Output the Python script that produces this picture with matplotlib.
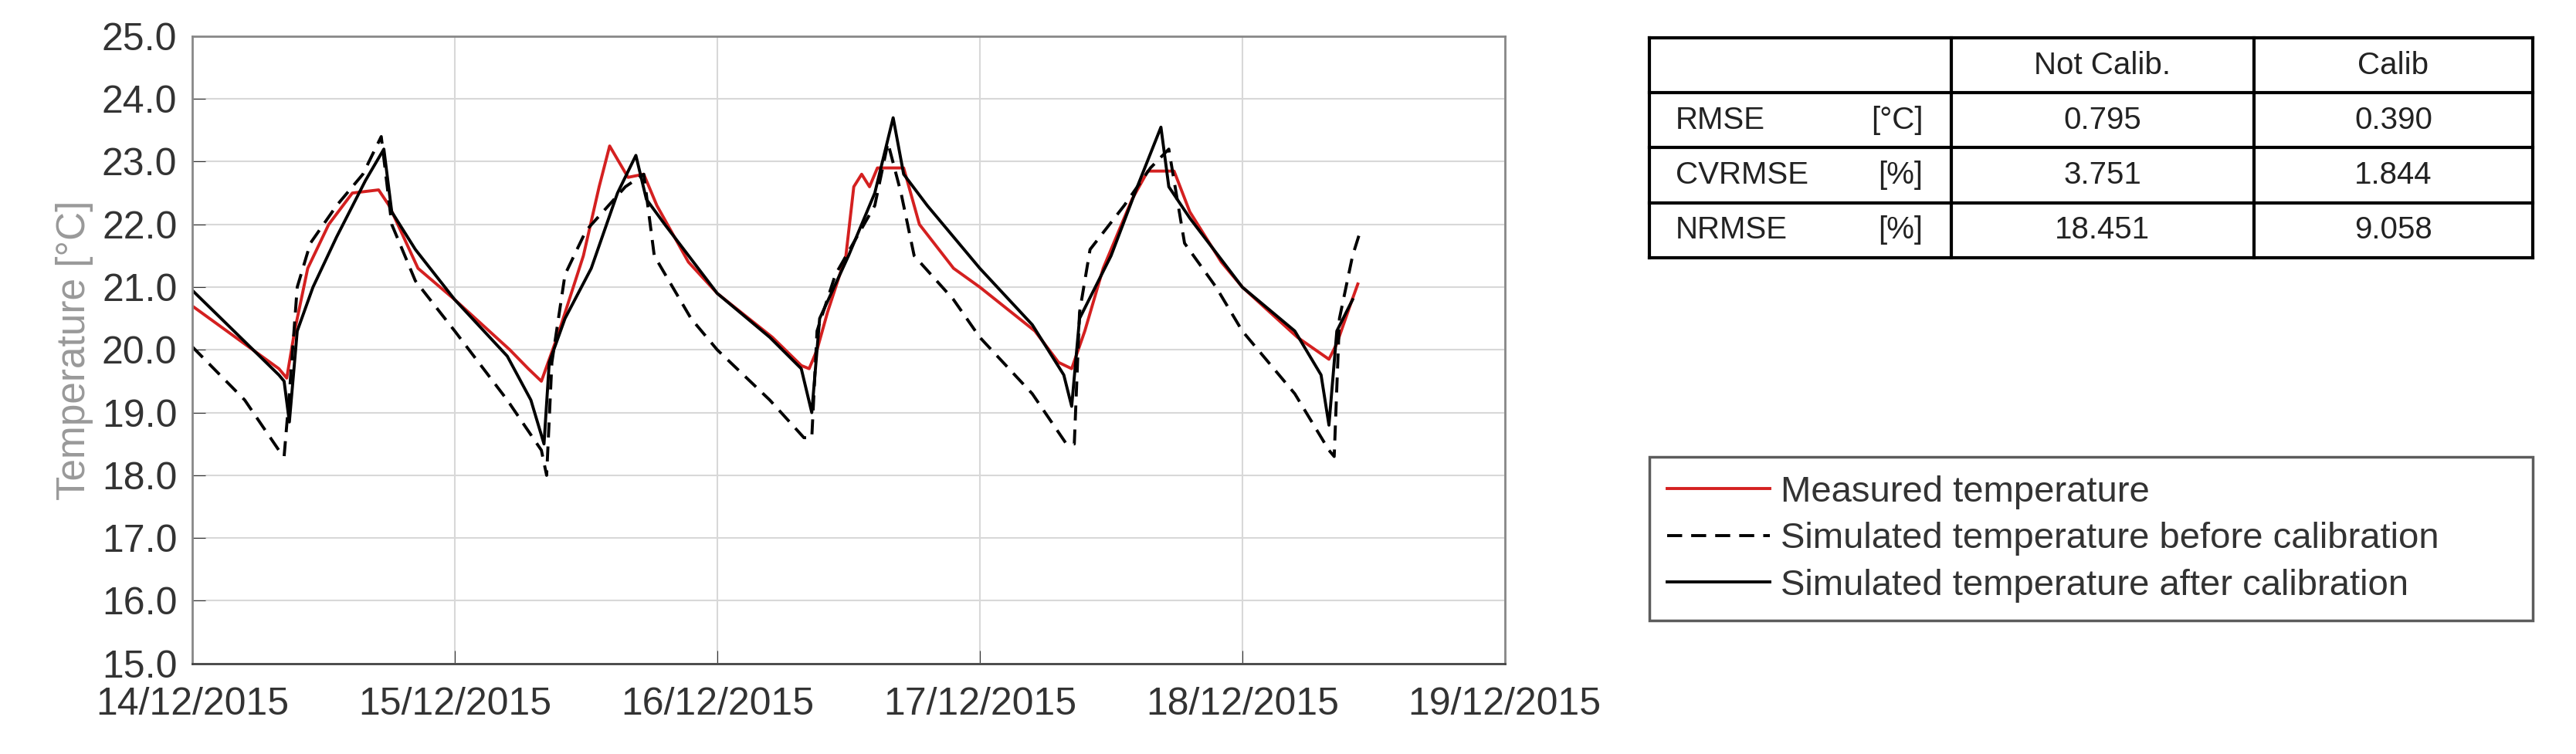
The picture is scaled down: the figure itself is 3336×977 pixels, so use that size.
import matplotlib
matplotlib.use("Agg")
import matplotlib.pyplot as plt
import numpy as np

plt.rcParams['font.family'] = ['Liberation Sans', 'DejaVu Sans']

date_labels = ['14/12/2015', '15/12/2015', '16/12/2015', '17/12/2015', '18/12/2015', '19/12/2015']

# time in days since 14/12/2015 00:00, temperatures in degC
meas_t = [0, 0.33, 0.36, 0.39, 0.44, 0.52, 0.61, 0.71, 0.75, 0.86, 1.0, 1.21, 1.28, 1.33, 1.39, 1.49,
          1.55, 1.59, 1.66, 1.72, 1.77, 1.89, 2.0, 2.21, 2.32, 2.35, 2.38, 2.42, 2.49, 2.52, 2.55, 2.58,
          2.61, 2.71, 2.77, 2.9, 3.0, 3.21, 3.3, 3.35, 3.4, 3.47, 3.58, 3.64, 3.74, 3.8, 3.92, 4.0,
          4.21, 4.33, 4.36, 4.41, 4.44]
meas_y = [20.7, 19.7, 19.55, 20.3, 21.3, 22.0, 22.5, 22.55, 22.3, 21.3, 20.8, 20.0, 19.7, 19.5, 20.2, 21.5,
          22.6, 23.25, 22.75, 22.8, 22.3, 21.4, 20.9, 20.2, 19.75, 19.7, 20.0, 20.6, 21.5, 22.6, 22.8, 22.6,
          22.9, 22.9, 22.0, 21.3, 21.0, 20.3, 19.8, 19.7, 20.3, 21.3, 22.4, 22.85, 22.85, 22.2, 21.4, 21.0,
          20.2, 19.85, 20.1, 20.7, 21.05]

before_t = [0, 0.2, 0.33, 0.35, 0.37, 0.40, 0.45, 0.55, 0.65, 0.72, 0.76, 0.85, 1.0, 1.2, 1.33, 1.35,
            1.37, 1.42, 1.5, 1.65, 1.72, 1.76, 1.9, 2.0, 2.2, 2.33, 2.36, 2.38, 2.45, 2.6, 2.65, 2.70,
            2.75, 2.9, 3.0, 3.2, 3.33, 3.36, 3.38, 3.42, 3.55, 3.65, 3.72, 3.78, 3.9, 4.0, 4.2, 4.33,
            4.35, 4.37, 4.42, 4.45]
before_y = [20.05, 19.2, 18.4, 18.3, 19.3, 21.0, 21.7, 22.3, 22.8, 23.4, 22.0, 21.1, 20.3, 19.2, 18.4, 18.0,
            19.8, 21.2, 21.9, 22.6, 22.8, 21.5, 20.5, 20.0, 19.2, 18.6, 18.6, 20.3, 21.2, 22.3, 23.3, 22.5,
            21.5, 20.8, 20.2, 19.3, 18.5, 18.5, 20.6, 21.6, 22.3, 22.9, 23.2, 21.7, 21.0, 20.3, 19.3, 18.4,
            18.3, 20.5, 21.5, 21.9]

after_t = [0, 0.33, 0.35, 0.37, 0.40, 0.46, 0.55, 0.66, 0.73, 0.76, 0.85, 1.0, 1.2, 1.29, 1.34, 1.36,
           1.42, 1.52, 1.62, 1.69, 1.73, 1.80, 2.0, 2.2, 2.32, 2.36, 2.39, 2.5, 2.6, 2.67, 2.71, 2.8,
           3.0, 3.2, 3.32, 3.35, 3.38, 3.5, 3.6, 3.69, 3.72, 3.8, 4.0, 4.2, 4.3, 4.33, 4.36, 4.42]
after_y = [20.95, 19.6, 19.5, 18.85, 20.3, 21.0, 21.8, 22.7, 23.2, 22.2, 21.6, 20.8, 19.9, 19.2, 18.5, 19.8,
           20.5, 21.3, 22.5, 23.1, 22.4, 22.0, 20.9, 20.2, 19.7, 19.0, 20.5, 21.5, 22.5, 23.7, 22.8, 22.3,
           21.3, 20.4, 19.6, 19.1, 20.5, 21.5, 22.6, 23.55, 22.6, 22.1, 21.0, 20.3, 19.6, 18.8, 20.3, 20.8]

metrics = ['RMSE', 'CVRMSE', 'NRMSE']
units = ['[°C]', '[%]', '[%]']
col_labels = ['Not Calib.', 'Calib']
not_calib = ['0.795', '3.751', '18.451']
calib = ['0.390', '1.844', '9.058']

fig = plt.figure(figsize=(33.37, 9.77), dpi=100)
ax = fig.add_axes([0.0746, 0.12, 0.5094, 0.832])

ax.plot(meas_t, meas_y, color='#d42020', lw=2.8, label='Measured temperature')
ax.plot(before_t, before_y, color='black', lw=2.8, ls=(0, (5, 3)), label='Simulated temperature before calibration')
ax.plot(after_t, after_y, color='black', lw=2.8, label='Simulated temperature after calibration')

ax.set_xlim(0, 5)
ax.set_ylim(15, 25)
ax.set_xticks(range(6))
ax.set_xticklabels(date_labels)
ax.set_yticks(np.arange(15, 25.1, 1))
ax.set_yticklabels(['%.1f' % v for v in np.arange(15, 25.1, 1)])
ax.tick_params(labelsize=36, colors='#333333', direction='in', length=12)
ax.tick_params(axis='x', pad=22)
ax.tick_params(axis='y', pad=14)
ax.grid(color='#d8d8d8', lw=1.5)
ax.set_axisbelow(True)
for s in ax.spines.values():
    s.set_color('#888888')
    s.set_linewidth(2)
ax.spines['bottom'].set_color('#444444')
ax.set_ylabel('Temperature [°C]', fontsize=37, color='#999999', labelpad=8)

# metrics table
tab = fig.add_axes([0.640, 0.658, 0.343, 0.292])
tab.set_xlim(0, 1)
tab.set_ylim(0, 4)
tab.axis('off')
x_div = [0, 0.342, 0.684, 1]
for yv in range(5):
    tab.plot([0, 1], [yv, yv], color='black', lw=3, clip_on=False)
for xv in x_div:
    tab.plot([xv, xv], [0, 4], color='black', lw=3, clip_on=False)
fs = 29
for j, lab in enumerate(col_labels):
    tab.text((x_div[j + 1] + x_div[j + 2]) / 2, 3.5, lab, ha='center', va='center', fontsize=fs, color='#222222')
for i in range(3):
    yc = 2.5 - i
    tab.text(0.03, yc, metrics[i], ha='left', va='center', fontsize=fs, color='#222222')
    tab.text(0.31, yc, units[i], ha='right', va='center', fontsize=fs, color='#222222')
    tab.text((x_div[1] + x_div[2]) / 2, yc, not_calib[i], ha='center', va='center', fontsize=fs, color='#222222')
    tab.text((x_div[2] + x_div[3]) / 2, yc, calib[i], ha='center', va='center', fontsize=fs, color='#222222')

# legend box
lax = fig.add_axes([0.640, 0.133, 0.343, 0.261])
lax.axis('off')
h, l = ax.get_legend_handles_labels()
leg = lax.legend(h, l, loc='upper left', bbox_to_anchor=(0, 1, 1, 0), mode='expand', borderaxespad=0,
                 fontsize=34, frameon=True, fancybox=False, handlelength=2.8, handletextpad=0.3,
                 labelspacing=0.35, borderpad=0.5, borderaxespad_=None) if False else \
      lax.legend(h, l, loc='upper left', bbox_to_anchor=(0, 1, 1, 0), mode='expand', borderaxespad=0,
                 fontsize=34, frameon=True, fancybox=False, handlelength=2.8, handletextpad=0.3,
                 labelspacing=0.35, borderpad=0.5)
leg.get_frame().set_edgecolor('#333333')
leg.get_frame().set_linewidth(2.5)
for t in leg.get_texts():
    t.set_color('#333333')

fig.savefig('out.png', dpi=100)
